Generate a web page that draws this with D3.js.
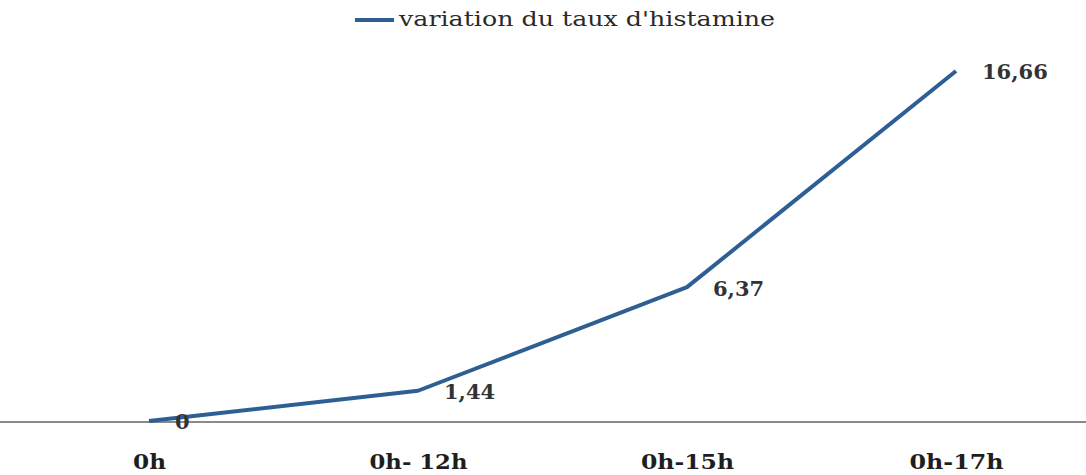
<!DOCTYPE html>
<html><head><meta charset="utf-8">
<script src="https://cdn.jsdelivr.net/npm/d3@7"></script>
<style>body{margin:0;background:#fff}svg{display:block}</style>
</head><body>
<svg id="chart" width="1086" height="475"></svg>
<script>
const categories = ["0h", "0h- 12h", "0h-15h", "0h-17h"];
const values = [0, 1.44, 6.37, 16.66];
const valueLabels = ["0", "1,44", "6,37", "16,66"];
const seriesName = "variation du taux d'histamine";

const svg = d3.select("#chart");
const font = "'DejaVu Serif', 'Liberation Serif', serif";
const x = d3.scalePoint().domain(categories).range([149, 956]);
const y = d3.scaleLinear().domain([0, 16.66]).range([421, 71]);

// axis line
svg.append("line").attr("x1", 0).attr("x2", 1086).attr("y1", y(0) + 1).attr("y2", y(0) + 1)
  .attr("stroke", "#8a8a8a").attr("stroke-width", 2);

// category labels
const catWidths = [33, 98, 93, 94];
const xAxis = d3.axisBottom(x).tickSize(0).tickPadding(0);
const g = svg.append("g").attr("transform", `translate(0,${y(0) + 41})`).call(xAxis);
g.select(".domain").remove();
g.selectAll("text").attr("font-family", font).attr("font-size", 20).attr("font-weight", "bold")
  .attr("fill", "#1e1e1e").attr("dy", "0.35em")
  .attr("textLength", (d, i) => catWidths[i]).attr("lengthAdjust", "spacingAndGlyphs");

// line
const data = categories.map((c, i) => ({c, v: values[i], l: valueLabels[i]}));
svg.append("path").datum(data)
  .attr("d", d3.line().x(d => x(d.c)).y(d => y(d.v)))
  .attr("fill", "none").attr("stroke", "#2e5f94").attr("stroke-width", 4)
  .attr("stroke-linejoin", "round");

// data labels
svg.selectAll(".lbl").data(data).enter().append("text")
  .attr("x", d => x(d.c) + 26).attr("y", d => y(d.v) + 1)
  .attr("dy", "0.35em")
  .attr("font-family", font).attr("font-size", 21).attr("font-weight", "bold")
  .attr("fill", "#333")
  .text(d => d.l);

// legend
svg.append("line").attr("x1", 355).attr("x2", 394).attr("y1", 20).attr("y2", 20)
  .attr("stroke", "#2e5f94").attr("stroke-width", 4);
svg.append("text").attr("x", 399).attr("y", 20).attr("dy", "0.32em")
  .attr("font-family", font).attr("font-size", 20).attr("fill", "#2a2a2a")
  .attr("textLength", 376).attr("lengthAdjust", "spacingAndGlyphs")
  .text(seriesName);
</script>
</body></html>
